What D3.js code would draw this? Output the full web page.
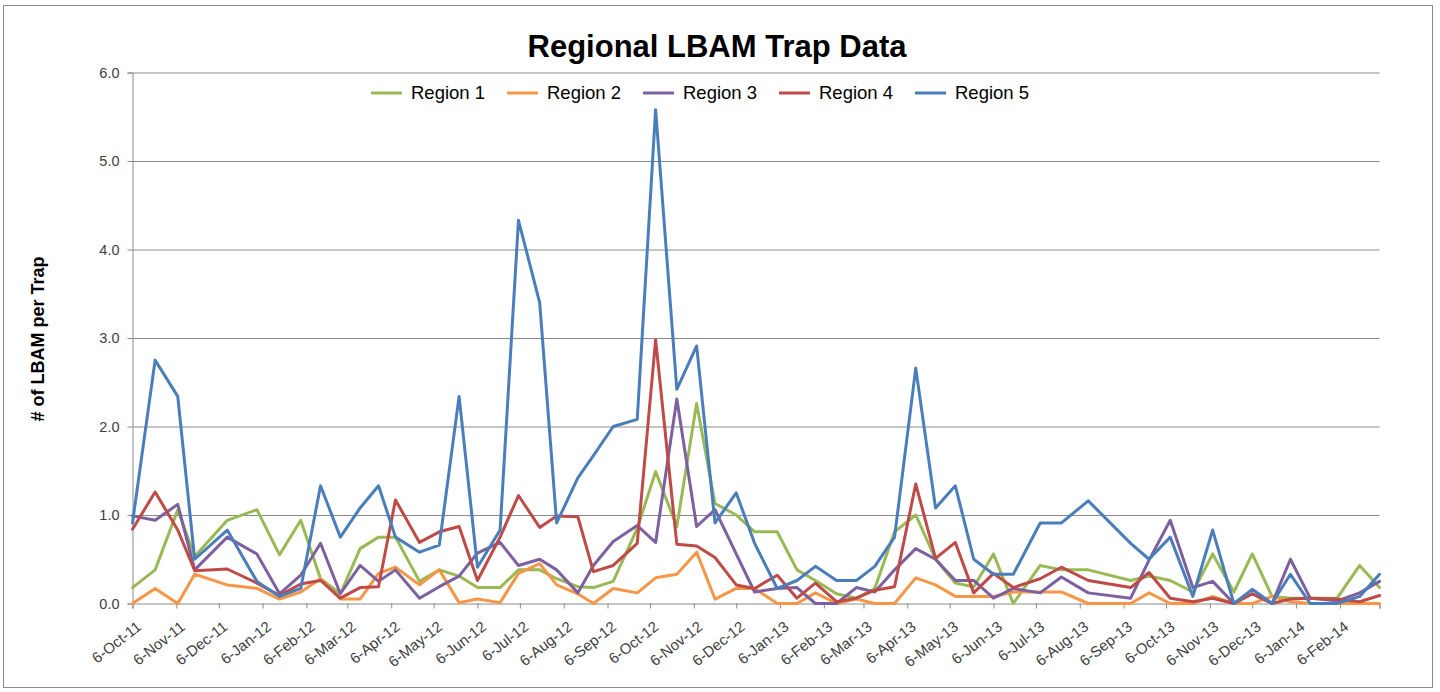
<!DOCTYPE html>
<html>
<head>
<meta charset="utf-8">
<script src="https://cdn.jsdelivr.net/npm/d3@7"></script>
<style>
  body { margin: 0; background: #fff; }
  svg { display: block; }
  text { font-family: "Liberation Sans", Arial, sans-serif; }
</style>
</head>
<body>
<svg id="chart" width="1440" height="692"></svg>
<script>
// sample dates (irregular)
var dates = ["2011-10-06","2011-10-22","2011-11-07","2011-11-19","2011-12-12","2012-01-02","2012-01-18","2012-02-02","2012-02-16","2012-03-01",
  "2012-03-15","2012-03-28","2012-04-09","2012-04-26","2012-05-10","2012-05-24","2012-06-06","2012-06-22","2012-07-05","2012-07-20",
  "2012-08-01","2012-08-16","2012-08-27","2012-09-10","2012-09-27","2012-10-10","2012-10-25","2012-11-08","2012-11-21","2012-12-06",
  "2012-12-19","2013-01-04","2013-01-18","2013-01-31","2013-02-15","2013-03-01","2013-03-14","2013-03-28","2013-04-12","2013-04-26",
  "2013-05-10","2013-05-23","2013-06-06","2013-06-20","2013-07-09","2013-07-24","2013-08-12","2013-09-11","2013-09-24","2013-10-09",
  "2013-10-25","2013-11-08","2013-11-23","2013-12-06","2013-12-20","2014-01-02","2014-01-16","2014-02-04","2014-02-20","2014-03-06"];

var region1 = [0.18,0.38,1.06,0.53,0.94,1.06,0.55,0.94,0.28,0.11, 0.62,0.75,0.75,0.25,0.38,0.31,0.18,0.18,0.38,0.38,
  0.28,0.19,0.18,0.25,0.85,1.49,0.87,2.26,1.13,1.00, 0.81,0.81,0.38,0.26,0.11,0.06,0.17,0.81,1.00,0.50,
  0.23,0.19,0.56,0.00,0.43,0.38,0.38,0.26,0.31,0.26, 0.13,0.56,0.13,0.56,0.08,0.06,0.06,0.06,0.43,0.18];
var region2 = [0.00,0.17,0.00,0.33,0.21,0.17,0.05,0.13,0.28,0.05, 0.05,0.34,0.41,0.21,0.38,0.01,0.05,0.01,0.34,0.45,
  0.21,0.11,0.00,0.17,0.12,0.29,0.33,0.58,0.05,0.17, 0.17,0.00,0.00,0.12,0.00,0.05,0.00,0.00,0.29,0.21,
  0.08,0.08,0.08,0.13,0.13,0.13,0.00,0.00,0.12,0.00, 0.00,0.08,0.00,0.00,0.08,0.02,0.00,0.00,0.00,0.00];
var region3 = [0.99,0.94,1.12,0.38,0.75,0.56,0.11,0.32,0.68,0.11, 0.43,0.25,0.38,0.06,0.19,0.31,0.57,0.69,0.43,0.50,
  0.38,0.12,0.43,0.70,0.88,0.69,2.31,0.87,1.06,0.56, 0.13,0.17,0.18,0.00,0.00,0.18,0.13,0.38,0.62,0.50,
  0.26,0.26,0.06,0.17,0.12,0.30,0.12,0.06,0.49,0.94, 0.18,0.25,0.00,0.11,0.00,0.50,0.06,0.03,0.12,0.25];
var region4 = [0.84,1.26,0.83,0.37,0.39,0.23,0.09,0.22,0.26,0.06, 0.18,0.19,1.17,0.69,0.81,0.87,0.26,0.75,1.22,0.86,
  0.99,0.98,0.36,0.43,0.68,2.98,0.67,0.65,0.52,0.21, 0.17,0.32,0.06,0.23,0.02,0.06,0.15,0.19,1.35,0.51,
  0.69,0.12,0.34,0.18,0.28,0.41,0.26,0.18,0.35,0.06, 0.02,0.06,0.00,0.11,0.00,0.05,0.06,0.05,0.02,0.09];
var region5 = [0.91,2.75,2.34,0.50,0.83,0.25,0.08,0.17,1.33,0.75, 1.08,1.33,0.75,0.58,0.66,2.34,0.41,0.83,4.33,3.40,
  0.91,1.42,1.67,2.00,2.08,5.58,2.42,2.91,0.91,1.25, 0.68,0.17,0.26,0.42,0.26,0.26,0.42,0.75,2.66,1.08,
  1.33,0.50,0.33,0.33,0.91,0.91,1.16,0.68,0.50,0.75, 0.08,0.83,0.00,0.16,0.00,0.33,0.00,0.00,0.08,0.33];

var seriesNames = ["Region 1","Region 2","Region 3","Region 4","Region 5"];
var seriesColors = ["#98b954","#f79646","#7d60a0","#be4b48","#4a7ebb"];
var yTicks = [0,1,2,3,4,5,6];
var xTickLabels = ["6-Oct-11","6-Nov-11","6-Dec-11","6-Jan-12","6-Feb-12","6-Mar-12","6-Apr-12","6-May-12","6-Jun-12","6-Jul-12",
  "6-Aug-12","6-Sep-12","6-Oct-12","6-Nov-12","6-Dec-12","6-Jan-13","6-Feb-13","6-Mar-13","6-Apr-13","6-May-13",
  "6-Jun-13","6-Jul-13","6-Aug-13","6-Sep-13","6-Oct-13","6-Nov-13","6-Dec-13","6-Jan-14","6-Feb-14","6-Mar-14"];

var parseDay = d3.utcParse("%Y-%m-%d");
var parseTick = d3.utcParse("%d-%b-%y");
var dayList = dates.map(parseDay);
var tickDates = xTickLabels.map(parseTick);
var allSeries = [region1, region2, region3, region4, region5];

var plotLeft = 132.5, plotRight = 1379.5, plotTop = 72.5, plotBottom = 603.5;
var svg = d3.select("#chart");

// outer chart border
svg.append("rect").attr("x", 3.5).attr("y", 5.5).attr("width", 1429).attr("height", 682)
  .attr("fill", "#fff").attr("stroke", "#8c8c8c").attr("stroke-width", 1);

var x = d3.scaleUtc().domain([dayList[0], dayList[dayList.length - 1]]).range([plotLeft, plotRight]);
var y = d3.scaleLinear().domain([0, 6]).range([plotBottom, plotTop]);

// gridlines
var grid = svg.append("g").attr("transform", "translate(" + plotLeft + ",0)")
  .call(d3.axisLeft(y).tickValues(yTicks.slice(1)).tickSize(-(plotRight - plotLeft)).tickFormat(""));
grid.select(".domain").remove();
grid.selectAll("line").attr("stroke", "#8a8a8a");

// y axis
var yAxis = svg.append("g").attr("transform", "translate(" + plotLeft + ",0)")
  .call(d3.axisLeft(y).tickValues(yTicks).tickSize(5).tickPadding(8).tickFormat(d3.format(".1f")));
yAxis.select(".domain").attr("stroke", "#8a8a8a");
yAxis.selectAll("line").attr("stroke", "#8a8a8a");
yAxis.selectAll("text").attr("font-size", 14.5).attr("fill", "#404040")
  .style("font-family", '"Liberation Sans", Arial, sans-serif');

// x axis
var xAxis = svg.append("g").attr("transform", "translate(0," + plotBottom + ")")
  .call(d3.axisBottom(x).tickValues(tickDates).tickSize(5)
    .tickFormat(function(d, i) { return i < xTickLabels.length - 1 ? xTickLabels[i] : ""; }));
xAxis.select(".domain").attr("stroke", "#8a8a8a");
xAxis.selectAll("line").attr("stroke", "#8a8a8a");
xAxis.selectAll("text")
  .attr("font-size", 15).attr("fill", "#404040")
  .style("font-family", '"Liberation Sans", Arial, sans-serif')
  .attr("text-anchor", "end")
  .attr("x", 0).attr("y", 0).attr("dy", "0.35em")
  .attr("transform", "translate(6,21) rotate(-38)");

// lines
var line = d3.line()
  .x(function(d, i) { return x(dayList[i]); })
  .y(function(d) { return y(d); });

svg.append("g").selectAll("path").data(allSeries).join("path")
  .attr("d", line)
  .attr("fill", "none")
  .attr("stroke", function(d, i) { return seriesColors[i]; })
  .attr("stroke-width", 3)
  .attr("stroke-linejoin", "round")
  .attr("stroke-linecap", "round");

// title
svg.append("text").attr("x", 717).attr("y", 57).attr("text-anchor", "middle")
  .attr("font-size", 31).attr("font-weight", "bold").attr("fill", "#000")
  .text("Regional LBAM Trap Data");

// y axis title
svg.append("text").attr("transform", "translate(44,339) rotate(-90)")
  .attr("text-anchor", "middle").attr("font-size", 18).attr("font-weight", "bold").attr("fill", "#000")
  .text("# of LBAM per Trap");

// legend
var legend = svg.append("g").selectAll("g").data(seriesNames).join("g")
  .attr("transform", function(d, i) { return "translate(" + (371 + i * 136) + ",93)"; });
legend.append("line").attr("x1", 0).attr("x2", 31).attr("y1", 0).attr("y2", 0)
  .attr("stroke", function(d, i) { return seriesColors[i]; }).attr("stroke-width", 3);
legend.append("text").attr("x", 40).attr("y", 0).attr("dy", "0.35em")
  .attr("font-size", 18.5).attr("fill", "#000").text(function(d) { return d; });
</script>
</body>
</html>
